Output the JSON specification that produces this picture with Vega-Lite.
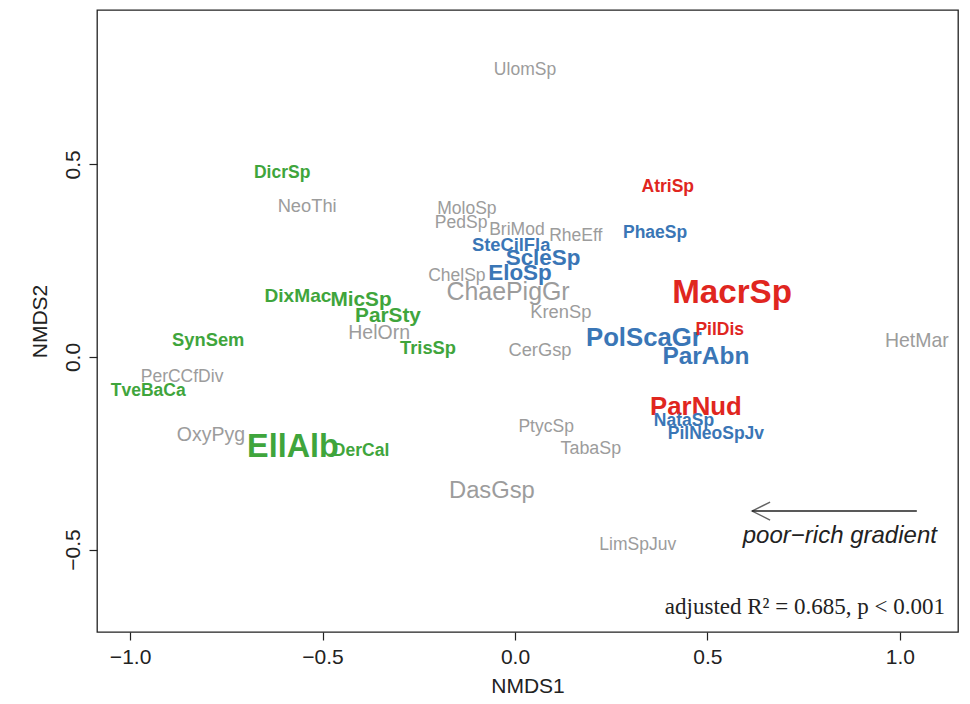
{
  "$schema": "https://vega.github.io/schema/vega-lite/v6.json",
  "autosize": "none",
  "width": 861,
  "height": 622,
  "padding": {"left": 97, "top": 10, "right": 12, "bottom": 72},
  "background": "white",
  "config": {
    "view": {"stroke": "#222222", "strokeWidth": 1.3},
    "font": "Liberation Sans",
    "axis": {
      "grid": false,
      "domain": false,
      "tickColor": "#222222",
      "tickSize": 8,
      "tickWidth": 1.2,
      "labelFont": "Liberation Sans",
      "labelFontSize": 21,
      "labelColor": "#222222",
      "titleFont": "Liberation Sans",
      "titleFontSize": 21,
      "titleFontWeight": "normal",
      "titleColor": "#222222"
    }
  },
  "datasets": {
    "species": [
      {"taxon": "UlomSp", "nmds1": 0.026, "nmds2": 0.745, "assoc": "none", "abundance": 1.0},
      {"taxon": "DicrSp", "nmds1": -0.605, "nmds2": 0.478, "assoc": "poor", "abundance": 1.0},
      {"taxon": "NeoThi", "nmds1": -0.54, "nmds2": 0.39, "assoc": "none", "abundance": 1.05},
      {"taxon": "MoloSp", "nmds1": -0.125, "nmds2": 0.384, "assoc": "none", "abundance": 1.0},
      {"taxon": "PedSp", "nmds1": -0.14, "nmds2": 0.348, "assoc": "none", "abundance": 1.0},
      {"taxon": "BriMod", "nmds1": 0.005, "nmds2": 0.33, "assoc": "none", "abundance": 1.0},
      {"taxon": "RheEff", "nmds1": 0.158, "nmds2": 0.314, "assoc": "none", "abundance": 1.0},
      {"taxon": "SteCilFla", "nmds1": -0.01, "nmds2": 0.288, "assoc": "intermediate", "abundance": 1.05},
      {"taxon": "ScleSp", "nmds1": 0.073, "nmds2": 0.257, "assoc": "intermediate", "abundance": 1.3},
      {"taxon": "PhaeSp", "nmds1": 0.364, "nmds2": 0.322, "assoc": "intermediate", "abundance": 1.0},
      {"taxon": "AtriSp", "nmds1": 0.397, "nmds2": 0.442, "assoc": "rich", "abundance": 1.0},
      {"taxon": "EloSp", "nmds1": 0.013, "nmds2": 0.218, "assoc": "intermediate", "abundance": 1.3},
      {"taxon": "ChelSp", "nmds1": -0.151, "nmds2": 0.21, "assoc": "none", "abundance": 1.0},
      {"taxon": "ChaePigGr", "nmds1": -0.018, "nmds2": 0.166, "assoc": "none", "abundance": 1.45},
      {"taxon": "KrenSp", "nmds1": 0.119, "nmds2": 0.114, "assoc": "none", "abundance": 1.05},
      {"taxon": "MacrSp", "nmds1": 0.564, "nmds2": 0.166, "assoc": "rich", "abundance": 1.95},
      {"taxon": "DixMac", "nmds1": -0.564, "nmds2": 0.158, "assoc": "poor", "abundance": 1.1},
      {"taxon": "MicSp", "nmds1": -0.4, "nmds2": 0.148, "assoc": "poor", "abundance": 1.2},
      {"taxon": "ParSty", "nmds1": -0.33, "nmds2": 0.106, "assoc": "poor", "abundance": 1.2},
      {"taxon": "HelOrn", "nmds1": -0.353, "nmds2": 0.062, "assoc": "none", "abundance": 1.12},
      {"taxon": "TrisSp", "nmds1": -0.226, "nmds2": 0.021, "assoc": "poor", "abundance": 1.05},
      {"taxon": "SynSem", "nmds1": -0.797, "nmds2": 0.042, "assoc": "poor", "abundance": 1.05},
      {"taxon": "CerGsp", "nmds1": 0.065, "nmds2": 0.016, "assoc": "none", "abundance": 1.05},
      {"taxon": "PolScaGr", "nmds1": 0.335, "nmds2": 0.049, "assoc": "intermediate", "abundance": 1.5},
      {"taxon": "PilDis", "nmds1": 0.532, "nmds2": 0.07, "assoc": "rich", "abundance": 1.0},
      {"taxon": "ParAbn", "nmds1": 0.496, "nmds2": 0.0, "assoc": "intermediate", "abundance": 1.42},
      {"taxon": "HetMar", "nmds1": 1.044, "nmds2": 0.042, "assoc": "none", "abundance": 1.12},
      {"taxon": "PerCCfDiv", "nmds1": -0.865, "nmds2": -0.052, "assoc": "none", "abundance": 1.0},
      {"taxon": "TveBaCa", "nmds1": -0.953, "nmds2": -0.088, "assoc": "poor", "abundance": 1.0},
      {"taxon": "OxyPyg", "nmds1": -0.79, "nmds2": -0.203, "assoc": "none", "abundance": 1.12},
      {"taxon": "EllAlb", "nmds1": -0.577, "nmds2": -0.234, "assoc": "poor", "abundance": 1.9},
      {"taxon": "DerCal", "nmds1": -0.4, "nmds2": -0.244, "assoc": "poor", "abundance": 1.0},
      {"taxon": "PtycSp", "nmds1": 0.081, "nmds2": -0.182, "assoc": "none", "abundance": 1.0},
      {"taxon": "TabaSp", "nmds1": 0.197, "nmds2": -0.239, "assoc": "none", "abundance": 1.02},
      {"taxon": "DasGsp", "nmds1": -0.06, "nmds2": -0.348, "assoc": "none", "abundance": 1.38},
      {"taxon": "ParNud", "nmds1": 0.47, "nmds2": -0.13, "assoc": "rich", "abundance": 1.5},
      {"taxon": "NataSp", "nmds1": 0.439, "nmds2": -0.166, "assoc": "intermediate", "abundance": 1.0},
      {"taxon": "PilNeoSpJv", "nmds1": 0.522, "nmds2": -0.2, "assoc": "intermediate", "abundance": 1.0},
      {"taxon": "LimSpJuv", "nmds1": 0.319, "nmds2": -0.488, "assoc": "none", "abundance": 1.0}
    ],
    "gradient": [
      {"nmds1": 1.044, "nmds1_end": 0.616, "nmds2": -0.4, "label": "poor−rich gradient", "label_x": 0.844, "label_y": -0.465}
    ],
    "stats": [
      {"nmds1": 1.117, "nmds2": -0.649, "label": "adjusted R² = 0.685, p < 0.001"}
    ]
  },
  "layer": [
    {
      "data": {"name": "species"},
      "transform": [{"filter": "datum.assoc === 'none'"}],
      "mark": {"type": "text", "align": "center", "baseline": "middle", "font": "Liberation Sans", "fontWeight": "normal"},
      "encoding": {
        "x": {"field": "nmds1", "type": "quantitative", "scale": {"domain": [-1.086, 1.151], "nice": false, "zero": false},
              "axis": {"values": [-1, -0.5, 0, 0.5, 1], "format": ".1f", "title": "NMDS1", "labelPadding": 6, "titlePadding": 8}},
        "y": {"field": "nmds2", "type": "quantitative", "scale": {"domain": [-0.714, 0.901], "nice": false, "zero": false},
              "axis": {"values": [-0.5, 0, 0.5], "format": ".1f", "title": "NMDS2", "labelAngle": -90, "labelAlign": "center", "labelBaseline": "bottom", "labelPadding": 6, "titlePadding": 12}},
        "text": {"field": "taxon"},
        "color": {"field": "assoc", "type": "nominal", "legend": null,
                  "scale": {"domain": ["poor", "intermediate", "rich", "none"], "range": ["#3FA53C", "#3A76B6", "#E0261F", "#9C9C9C"]}},
        "size": {"field": "abundance", "type": "quantitative", "legend": null, "scale": {"type": "linear", "domain": [1, 2], "range": [17.5, 34], "zero": false}}
      }
    },
    {
      "data": {"name": "species"},
      "transform": [{"filter": "datum.assoc !== 'none'"}],
      "mark": {"type": "text", "align": "center", "baseline": "middle", "font": "Liberation Sans", "fontWeight": "bold"},
      "encoding": {
        "x": {"field": "nmds1", "type": "quantitative"},
        "y": {"field": "nmds2", "type": "quantitative"},
        "text": {"field": "taxon"},
        "color": {"field": "assoc", "type": "nominal", "legend": null},
        "size": {"field": "abundance", "type": "quantitative", "legend": null}
      }
    },
    {
      "data": {"name": "gradient"},
      "mark": {"type": "rule", "color": "#222222", "strokeWidth": 1.6},
      "encoding": {
        "x": {"field": "nmds1", "type": "quantitative"},
        "x2": {"field": "nmds1_end"},
        "y": {"field": "nmds2", "type": "quantitative"}
      }
    },
    {
      "data": {"name": "gradient"},
      "mark": {"type": "point", "shape": "M 2 -1 L 0 0 L 2 1", "filled": false, "stroke": "#222222", "strokeWidth": 1.4, "size": 324},
      "encoding": {
        "x": {"field": "nmds1_end", "type": "quantitative"},
        "y": {"field": "nmds2", "type": "quantitative"}
      }
    },
    {
      "data": {"name": "gradient"},
      "mark": {"type": "text", "align": "center", "baseline": "middle", "fontStyle": "italic", "fontSize": 24, "color": "#222222", "font": "Liberation Sans"},
      "encoding": {
        "x": {"field": "label_x", "type": "quantitative"},
        "y": {"field": "label_y", "type": "quantitative"},
        "text": {"field": "label"}
      }
    },
    {
      "data": {"name": "stats"},
      "mark": {"type": "text", "align": "right", "baseline": "middle", "fontSize": 23, "color": "#222222", "font": "Liberation Serif"},
      "encoding": {
        "x": {"field": "nmds1", "type": "quantitative"},
        "y": {"field": "nmds2", "type": "quantitative"},
        "text": {"field": "label"}
      }
    }
  ]
}
